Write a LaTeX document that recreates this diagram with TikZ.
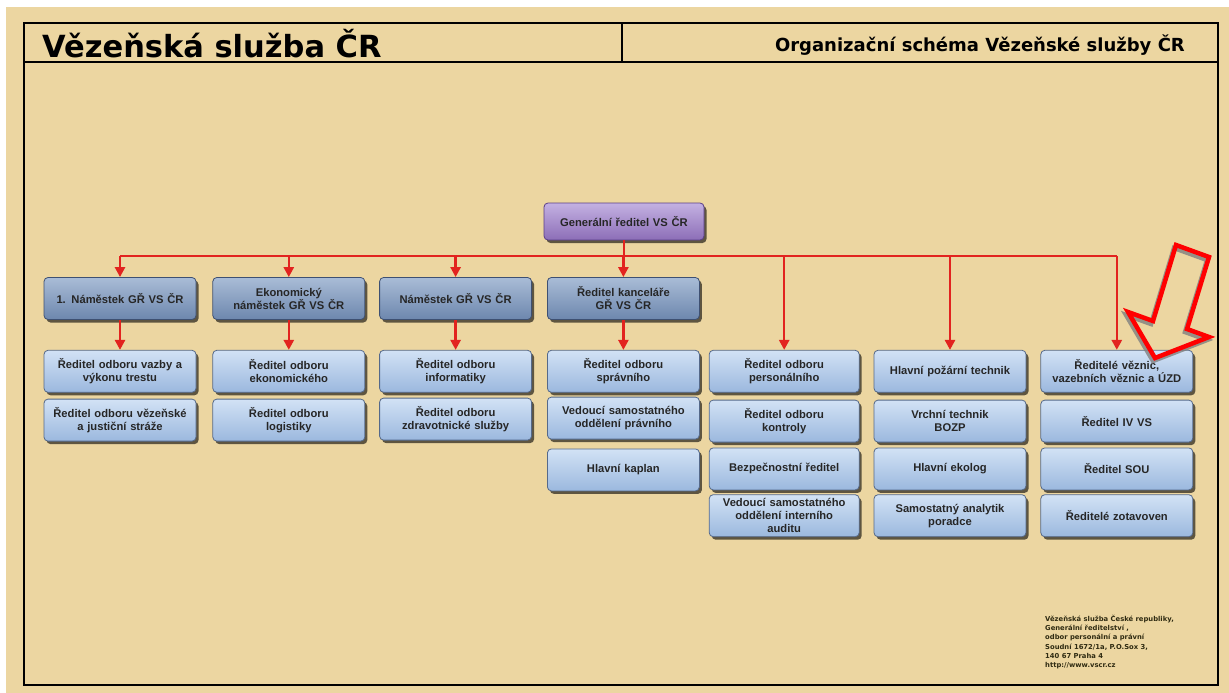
\documentclass[tikz,border=0pt]{standalone}
\usepackage{fontspec}
\setmainfont{Liberation Sans}
\newfontfamily\titlefont{DejaVu Sans}
\usetikzlibrary{positioning,shadows,arrows.meta}

\definecolor{paper}{HTML}{ECD6A1}
\definecolor{linered}{HTML}{E2231F}
\definecolor{boxedge}{HTML}{55698A}
\definecolor{boxtop}{HTML}{D2E2F5}
\definecolor{boxbottom}{HTML}{9BB8DE}
\definecolor{deputyedge}{HTML}{3E5072}
\definecolor{deputytop}{HTML}{A9BCD6}
\definecolor{deputybottom}{HTML}{6D87AE}
\definecolor{chiefedge}{HTML}{5A3E88}
\definecolor{chieftop}{HTML}{C4B1E2}
\definecolor{chiefbottom}{HTML}{8C6EB7}
\definecolor{footertext}{HTML}{2F2B12}

\begin{document}
\begin{tikzpicture}[x=1pt,y=-1pt,
    box/.style={draw=boxedge, line width=0.8pt, rounded corners=4pt,
      top color=boxtop, bottom color=boxbottom,
      minimum width=152pt, minimum height=42pt, inner xsep=2pt, text width=148pt, align=center,
      font=\fontsize{11.2}{13}\selectfont\bfseries, text=black!85,
      drop shadow={shadow xshift=2.5pt, shadow yshift=-3pt, fill=black, opacity=.6}},
    narrow/.style={minimum width=150pt, text width=146pt},
    deputy/.style={box, draw=deputyedge, top color=deputytop, bottom color=deputybottom},
    chief/.style={box, draw=chiefedge, top color=chieftop, bottom color=chiefbottom,
      minimum width=160pt, text width=156pt, minimum height=37pt},
    redline/.style={draw=linered, line width=2.5pt},
    arrowline/.style={redline, -{Triangle[width=10pt,length=10pt]}}]
    \useasboundingbox (0,0) rectangle (1229,693);
    % paper and frame
    \fill[white] (0,0) rectangle (1229,693);
    \fill[paper] (6,7) rectangle (1229,693);
    \draw[line width=2.5pt] (24,23) rectangle (1218,685);
    \draw[line width=2.5pt] (24,62) -- (1218,62);
    \draw[line width=2.5pt] (622,23) -- (622,62);
    \node (title) [anchor=west, inner sep=0pt, font=\titlefont\bfseries\fontsize{30.5}{32}\selectfont] at (42,44) {Vězeňská služba ČR};
    \node (schema) [anchor=east, inner sep=0pt, font=\titlefont\bfseries\fontsize{18}{20}\selectfont] at (1185,45) {Organizační schéma Vězeňské služby ČR};

    % top
    \node (reditel) [chief] at (624,221.5) {Generální ředitel VS ČR};
    \coordinate (bus) at (624,256);

    % first row
    \node (namestek1) [deputy] at (120,298.5) {1. Náměstek GŘ VS ČR};
    \node (ekonom) [deputy, right=16pt of namestek1] {Ekonomický\\náměstek GŘ VS ČR};
    \node (namestek) [deputy, right=14pt of ekonom] {Náměstek GŘ VS ČR};
    \node (kancelar) [deputy, right=15pt of namestek] {Ředitel kanceláře\\GŘ VS ČR};

    % second row
    \node (vazby) [box, below=30pt of namestek1] {Ředitel odboru vazby a\\výkonu trestu};
    \node (ekonomicky) [box, below=30pt of ekonom] {Ředitel odboru\\ekonomického};
    \node (informatiky) [box, below=30pt of namestek] {Ředitel odboru\\informatiky};
    \node (spravni) [box, below=30pt of kancelar] {Ředitel odboru\\správního};
    \node (personalni) [box, narrow, right=9pt of spravni] {Ředitel odboru\\personálního};
    \node (pozarni) [box, right=14pt of personalni] {Hlavní požární technik};
    \node (veznice) [box, right=14pt of pozarni] {Ředitelé věznic,\\vazebních věznic a ÚZD};

    % the stacks below
    \node (straze) [box, below=6pt of vazby] {Ředitel odboru vězeňské\\a justiční stráže};
    \node (logistiky) [box, below=6pt of ekonomicky] {Ředitel odboru\\logistiky};
    \node (zdravotni) [box, below=5pt of informatiky] {Ředitel odboru\\zdravotnické služby};
    \node (pravni) [box, below=4pt of spravni] {Vedoucí samostatného\\oddělení právního};
    \node (kaplan) [box, below=9pt of pravni] {Hlavní kaplan};
    \node (kontroly) [box, narrow, below=7pt of personalni] {Ředitel odboru\\kontroly};
    \node (bezpecnost) [box, narrow, below=5pt of kontroly] {Bezpečnostní ředitel};
    \node (audit) [box, narrow, below=4pt of bezpecnost] {Vedoucí samostatného\\oddělení interního\\auditu};
    \node (bozp) [box, below=7pt of pozarni] {Vrchní technik\\BOZP};
    \node (ekolog) [box, below=5pt of bozp] {Hlavní ekolog};
    \node (analytik) [box, below=4pt of ekolog] {Samostatný analytik\\poradce};
    \node (ivvs) [box, below=7pt of veznice] {Ředitel IV VS};
    \node (sou) [box, below=5pt of ivvs] {Ředitel SOU};
    \node (zotavovny) [box, below=4pt of sou] {Ředitelé zotavoven};

    % connectors
    \draw[redline] (reditel) -- (bus);
    \draw[redline] (namestek1 |- bus) -- (veznice |- bus);
    \foreach \n in {namestek1,ekonom,namestek,kancelar,personalni,pozarni,veznice}
        \draw[arrowline] (\n |- bus) -- (\n.north);
    \draw[arrowline] (namestek1) -- (vazby);
    \draw[arrowline] (ekonom) -- (ekonomicky);
    \draw[arrowline] (namestek) -- (informatiky);
    \draw[arrowline] (kancelar) -- (spravni);

    % big hollow arrow
    \draw[gray, line width=4.5pt, miter limit=20, opacity=.8, shift={(-2,3)}]
        (1176,245) -- (1209,257) -- (1187,329) -- (1209,337) -- (1155,358) -- (1128,312) -- (1153,321) -- cycle;
    \draw[red, line width=4.5pt, miter limit=20]
        (1176,245) -- (1209,257) -- (1187,329) -- (1209,337) -- (1155,358) -- (1128,312) -- (1153,321) -- cycle;

    % footer
    \node (adresa) [anchor=north west, inner sep=0pt, align=left, text=footertext,
        font=\titlefont\bfseries\fontsize{6.8}{9.2}\selectfont] at (1045,615)
        {Vězeňská služba České republiky,\\Generální ředitelství ,\\odbor personální a právní\\Soudní 1672/1a, P.O.Sox 3,\\140 67 Praha 4\\http://www.vscr.cz};
\end{tikzpicture}
\end{document}
